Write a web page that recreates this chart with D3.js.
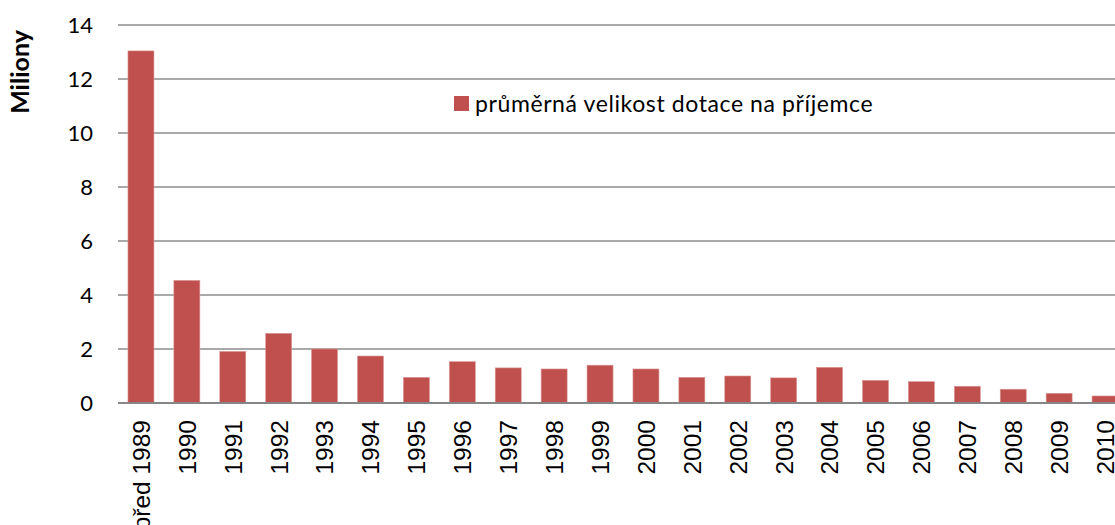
<!DOCTYPE html>
<html>
<head>
<meta charset="utf-8">
<script src="https://cdn.jsdelivr.net/npm/d3@7"></script>
<style>
  body { margin: 0; background: #fff; }
  svg { display: block; }
  .grid line { stroke: #8c8c8c; stroke-width: 1.5; }
  .ytick text { font-family: Lato, sans-serif; font-size: 22px; fill: #000; }
  .xtick text { font-family: Arial, "Liberation Sans", sans-serif; font-size: 24.5px; fill: #000; }
</style>
</head>
<body>
<script>
// kategorie (roky)
var categories = ['před 1989', '1990', '1991', '1992', '1993', '1994', '1995', '1996', '1997', '1998',
  '1999', '2000', '2001', '2002', '2003', '2004', '2005', '2006', '2007', '2008', '2009', '2010'];

// průměrná velikost dotace na příjemce (miliony)
var values = [13.04, 4.54, 1.91, 2.58, 2.0, 1.74, 0.95, 1.53, 1.3, 1.26,
  1.4, 1.26, 0.95, 1.0, 0.93, 1.32, 0.84, 0.79, 0.62, 0.51, 0.36, 0.26];

var yTicks = [0, 2, 4, 6, 8, 10, 12, 14];
var seriesName = 'průměrná velikost dotace na příjemce';
var axisTitle = 'Miliony';

var width = 1115;
var height = 525;

// plocha grafu (poslední sloupec je oříznutý pravým okrajem)
var plot = { left: 118, right: 1128, top: 25, bottom: 403 };

var x = d3.scaleBand()
  .domain(categories)
  .range([plot.left, plot.right])
  .paddingInner(0.434)
  .paddingOuter(0.217);

var y = d3.scaleLinear()
  .domain([0, 14])
  .range([plot.bottom, plot.top]);

var svg = d3.select('body').append('svg')
  .attr('width', width)
  .attr('height', height);

// mřížka
var grid = svg.append('g').classed('grid', true);
grid.selectAll('line')
  .data(yTicks)
  .enter()
  .append('line')
  .attr('x1', plot.left)
  .attr('x2', width)
  .attr('y1', function(d) { return y(d); })
  .attr('y2', function(d) { return y(d); });

// sloupce
svg.append('g')
  .selectAll('rect')
  .data(values)
  .enter()
  .append('rect')
  .attr('x', function(d, i) { return x(categories[i]); })
  .attr('width', x.bandwidth())
  .attr('y', function(d) { return y(d); })
  .attr('height', function(d) { return y(0) - y(d); })
  .attr('fill', '#c0504d')
  .attr('stroke', '#d99694')
  .attr('stroke-width', 0.6);

// osa x (nulová čára)
svg.append('line')
  .attr('x1', plot.left)
  .attr('x2', width)
  .attr('y1', y(0))
  .attr('y2', y(0))
  .attr('stroke', '#868686')
  .attr('stroke-width', 2);

// popisky osy y
var yAxis = d3.axisLeft(y).tickValues(yTicks).tickSize(0).tickPadding(0);
svg.append('g')
  .classed('ytick', true)
  .attr('transform', 'translate(93,0)')
  .call(yAxis)
  .call(function(g) { g.select('.domain').remove(); })
  .selectAll('text')
  .attr('dy', '0.36em');

// popisky osy x (otočené)
var xAxis = d3.axisBottom(x).tickSize(0).tickPadding(0);
svg.append('g')
  .classed('xtick', true)
  .attr('transform', 'translate(0,420)')
  .call(xAxis)
  .call(function(g) { g.select('.domain').remove(); })
  .selectAll('text')
  .attr('transform', 'rotate(-90)')
  .attr('text-anchor', 'end')
  .attr('x', 0)
  .attr('y', 0)
  .attr('dy', '0.36em');

// název osy
svg.append('text')
  .attr('transform', 'translate(29,72) rotate(-90)')
  .attr('text-anchor', 'middle')
  .attr('font-family', 'Lato, sans-serif')
  .attr('font-weight', 'bold')
  .attr('font-size', 25)
  .text(axisTitle);

// legenda
var legend = svg.append('g').attr('transform', 'translate(454,96)');
legend.append('rect')
  .attr('width', 15)
  .attr('height', 15)
  .attr('fill', '#c0504d');
legend.append('text')
  .attr('x', 21)
  .attr('y', 15.5)
  .attr('font-family', 'Lato, sans-serif')
  .attr('font-size', 23)
  .attr('letter-spacing', 0.6)
  .attr('fill', '#000')
  .text(seriesName);
</script>
</body>
</html>
